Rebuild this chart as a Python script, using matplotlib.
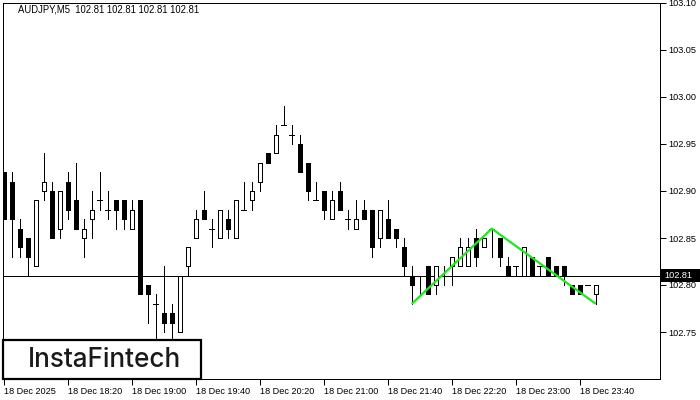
import matplotlib
matplotlib.use("Agg")
import matplotlib.pyplot as plt
from matplotlib.patches import Rectangle

# ---------------- data ----------------
title_text = "AUDJPY,M5  102.81 102.81 102.81 102.81"

opens = [102.92, 102.91, 102.86, 102.85, 102.82, 102.90, 102.90, 102.86, 102.91, 102.89,
         102.85, 102.87, 102.89, 102.88, 102.89, 102.89, 102.86, 102.89, 102.80, 102.78,
         102.77, 102.77, 102.75, 102.82, 102.85, 102.88, 102.86, 102.85, 102.87, 102.85,
         102.88, 102.89, 102.91, 102.94, 102.94, 102.97, 102.96, 102.95, 102.93, 102.89,
         102.90, 102.87, 102.90, 102.87, 102.86, 102.88, 102.88, 102.85, 102.87, 102.86,
         102.84, 102.81, 102.81, 102.82, 102.80, 102.81, 102.82, 102.82, 102.82, 102.85,
         102.84, 102.86, 102.85, 102.82, 102.82, 102.81, 102.83, 102.82, 102.83, 102.82,
         102.82, 102.80, 102.80, 102.80, 102.79, 102.81]
highs = [102.92, 102.92, 102.87, 102.85, 102.89, 102.94, 102.91, 102.90, 102.92, 102.93,
         102.87, 102.90, 102.92, 102.90, 102.89, 102.89, 102.89, 102.89, 102.80, 102.79,
         102.82, 102.78, 102.81, 102.84, 102.88, 102.90, 102.87, 102.88, 102.88, 102.89,
         102.91, 102.91, 102.93, 102.94, 102.97, 102.99, 102.97, 102.96, 102.93, 102.91,
         102.90, 102.90, 102.91, 102.88, 102.89, 102.89, 102.88, 102.88, 102.89, 102.86,
         102.85, 102.82, 102.81, 102.82, 102.82, 102.82, 102.83, 102.85, 102.85, 102.86,
         102.85, 102.86, 102.85, 102.83, 102.82, 102.84, 102.83, 102.82, 102.83, 102.82,
         102.82, 102.80, 102.80, 102.80, 102.80, 102.81]
lows = [102.87, 102.83, 102.83, 102.81, 102.82, 102.89, 102.85, 102.85, 102.87, 102.86,
        102.83, 102.85, 102.88, 102.87, 102.86, 102.86, 102.86, 102.79, 102.76, 102.73,
        102.75, 102.74, 102.75, 102.81, 102.85, 102.87, 102.84, 102.85, 102.85, 102.85,
        102.88, 102.88, 102.90, 102.93, 102.94, 102.97, 102.95, 102.92, 102.89, 102.89,
        102.87, 102.87, 102.88, 102.86, 102.86, 102.87, 102.83, 102.84, 102.85, 102.84,
        102.81, 102.78, 102.79, 102.79, 102.79, 102.80, 102.80, 102.82, 102.82, 102.82,
        102.84, 102.83, 102.82, 102.81, 102.81, 102.81, 102.81, 102.81, 102.81, 102.81,
        102.80, 102.79, 102.79, 102.80, 102.78, 102.81]
closes = [102.87, 102.87, 102.84, 102.83, 102.89, 102.91, 102.85, 102.90, 102.88, 102.86,
          102.86, 102.88, 102.89, 102.88, 102.88, 102.87, 102.88, 102.79, 102.79, 102.78,
          102.76, 102.76, 102.81, 102.84, 102.87, 102.87, 102.86, 102.88, 102.86, 102.89,
          102.88, 102.90, 102.93, 102.93, 102.96, 102.97, 102.96, 102.92, 102.90, 102.89,
          102.88, 102.89, 102.88, 102.87, 102.87, 102.87, 102.84, 102.88, 102.85, 102.85,
          102.82, 102.80, 102.81, 102.79, 102.82, 102.81, 102.83, 102.84, 102.84, 102.83,
          102.85, 102.86, 102.83, 102.81, 102.82, 102.84, 102.81, 102.82, 102.81, 102.81,
          102.81, 102.79, 102.79, 102.80, 102.80, 102.81]

x_tick_bars = [0, 8, 16, 24, 32, 40, 48, 56, 64, 72]
x_tick_labels = ["18 Dec 2025", "18 Dec 18:20", "18 Dec 19:00", "18 Dec 19:40",
                 "18 Dec 20:20", "18 Dec 21:00", "18 Dec 21:40", "18 Dec 22:20",
                 "18 Dec 23:00", "18 Dec 23:40"]
y_ticks = [102.75, 102.80, 102.85, 102.90, 102.95, 103.00, 103.05, 103.10]
last_price = 102.81
pattern_bars = [51, 61, 74]
pattern_prices = [102.78, 102.86, 102.78]
logo_text = "InstaFintech"

# ---------------- figure ----------------
W, H = 700, 400
fig = plt.figure(figsize=(W / 100, H / 100), dpi=100)
ax_l, ax_r, ax_t, ax_b = 3, 660, 3, 379
ax = fig.add_axes([ax_l / W, (H - ax_b) / H, (ax_r - ax_l) / W, (ax_b - ax_t) / H])
ax.set_facecolor("white")

px = 0.72  # one pixel in points
body_w = 0.5
font = ["Liberation Sans", "DejaVu Sans"]

for i in range(len(opens)):
    o, h, l, c = opens[i], highs[i], lows[i], closes[i]
    ax.vlines(i, l, h, color="black", lw=px, antialiased=False, zorder=2)
    if c > o:
        ax.add_patch(Rectangle((i - body_w / 2, o), body_w, c - o, facecolor="white",
                               edgecolor="black", lw=px, antialiased=False, zorder=3))
    elif c < o:
        ax.add_patch(Rectangle((i - body_w / 2, c), body_w, o - c, facecolor="black",
                               edgecolor="black", lw=px, antialiased=False, zorder=3))
    else:
        ax.hlines(o, i - body_w / 2 - 0.06, i + body_w / 2 + 0.06, color="black", lw=px,
                  antialiased=False, zorder=3)

# current price line
ax.axhline(last_price, color="black", lw=px, antialiased=False, zorder=1.5)

# pattern lines
ax.plot(pattern_bars, pattern_prices, color="#1ee81e", lw=1.6, zorder=4,
        solid_capstyle="butt")

n_vis = (ax_r - ax_l) / 8.0
ax.set_xlim(-0.1, -0.1 + n_vis)
ax.set_ylim(102.70, 103.10)

for s in ax.spines.values():
    s.set_linewidth(px)
    s.set_color("black")

ax.yaxis.tick_right()
ax.set_yticks(y_ticks)
ax.set_yticklabels([f"{v:.2f}" for v in y_ticks], fontsize=6.6, family=font)
ax.tick_params(axis="y", direction="out", length=4, width=px, pad=2, colors="black")

ax.set_xticks(x_tick_bars)
ax.set_xticklabels(x_tick_labels, fontsize=6.6, family=font, ha="left")
ax.tick_params(axis="x", direction="out", length=4, width=px, pad=2, colors="black")
for lab in ax.get_xticklabels():
    lab.set_horizontalalignment("left")

# title
fig.text(18 / W, 1 - 10 / H, title_text, fontsize=6.85, family=font, va="center",
         ha="left", color="black")

# price label box
fig.canvas.draw()
ypix = ax.transData.transform((0, last_price))[1]
fig.add_artist(Rectangle((661 / W, (ypix - 6.5) / H), 39 / W, 13 / H,
                         transform=fig.transFigure, facecolor="black",
                         edgecolor="none", zorder=5))
fig.text(664 / W, ypix / H, f"{last_price:.2f}", color="white", fontsize=6.6,
         family=font, va="center", ha="left", zorder=6)

# logo
aw, ah = ax_r - ax_l, ax_b - ax_t
ax.add_patch(Rectangle((0, 0), 198 / aw, 39 / ah, transform=ax.transAxes,
                       facecolor="white", edgecolor="black", lw=1.6, zorder=10,
                       clip_on=False))
ax.text(101 / aw, 19 / ah, logo_text, transform=ax.transAxes, fontsize=18.8,
        family=["Inter", "DejaVu Sans"], fontweight="medium", color="#1a1a1a",
        ha="center", va="center", zorder=11)

fig.savefig("out.png", dpi=100, facecolor="white")
